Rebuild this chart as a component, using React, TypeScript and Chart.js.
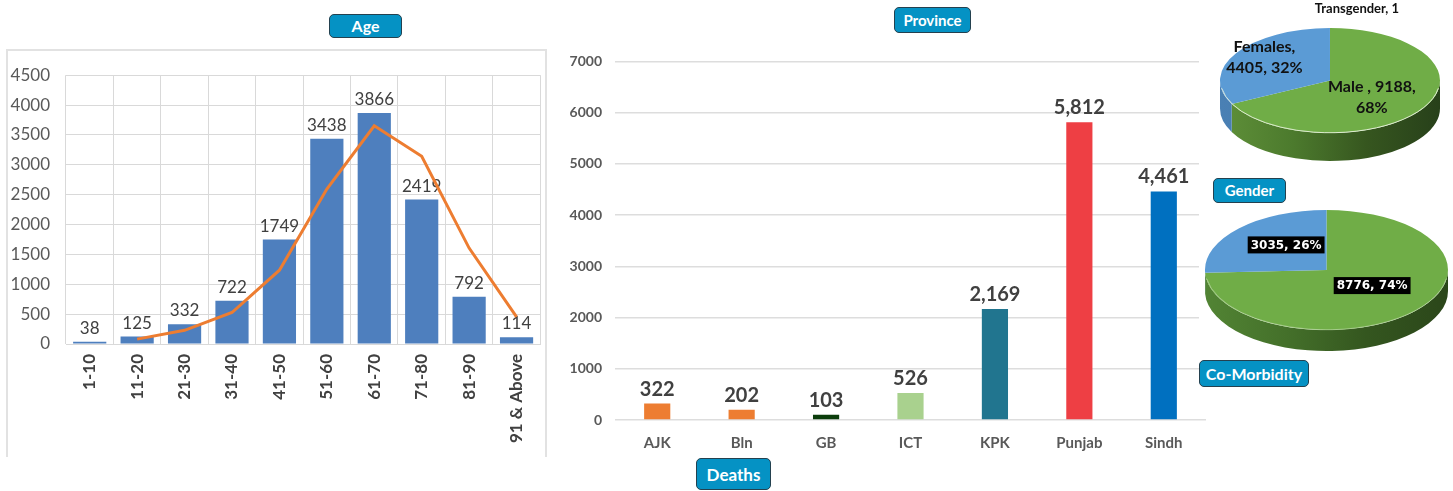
import React, { useEffect, useRef } from "react";
import { Chart, registerables } from "chart.js";

Chart.register(...registerables);

// ---------- data ----------
const ageCategories = ["1-10", "11-20", "21-30", "31-40", "41-50", "51-60", "61-70", "71-80", "81-90", "91 & Above"];
const ageDeaths = [38, 125, 332, 722, 1749, 3438, 3866, 2419, 792, 114];
// orange trend line
const ageTrend = [null, 82, 229, 527, 1236, 2594, 3652, 3143, 1606, 453];
const ageAxisMax = 4500;
const ageAxisStep = 500;

const provinceCategories = ["AJK", "Bln", "GB", "ICT", "KPK", "Punjab", "Sindh"];
const provinceDeaths = [322, 202, 103, 526, 2169, 5812, 4461];
const provinceAxisMax = 7000;
const provinceAxisStep = 1000;

const genderCategories = ["Male ", "Females", "Transgender"];
const genderValues = [9188, 4405, 1];

const comorbCategories = ["With Co-Morbidity", "Without Co-Morbidity"];
const comorbValues = [8776, 3035];

// ---------- styles ----------
const FONT = "Lato, 'Open Sans', sans-serif";
const provinceColors = ["#ED7D31", "#ED7D31", "#0B3D0B", "#A9D18E", "#21758F", "#EE3F44", "#0070C0"];

const barLabelPlugin = {
  id: "barLabels",
  afterDatasetDraw(chart: any, args: any, opts: any) {
    if (!opts || args.index !== opts.datasetIndex) return;
    const ctx = chart.ctx;
    const ds = chart.data.datasets[args.index];
    ctx.save();
    ctx.font = opts.font;
    ctx.fillStyle = opts.color;
    ctx.textAlign = "center";
    ctx.textBaseline = "alphabetic";
    args.meta.data.forEach((el: any, i: number) => {
      const v = ds.data[i];
      ctx.fillText(opts.format(v), el.x, el.y - opts.gap);
    });
    ctx.restore();
  },
};

function frontIntervals(s: number, e: number) {
  const out: number[][] = [];
  for (const off of [-2 * Math.PI, 0, 2 * Math.PI]) {
    const a = Math.max(s, off);
    const b = Math.min(e, off + Math.PI);
    if (b > a) out.push([a, b]);
  }
  return out;
}

const pie3dPlugin = {
  id: "pie3d",
  beforeDatasetsDraw(chart: any, _args: any, opts: any) {
    const meta = chart.getDatasetMeta(0);
    const arcs = meta.data;
    const ctx = chart.ctx;
    if (!arcs.length) return;
    const cx = arcs[0].x;
    const cy = arcs[0].y;
    const r = arcs[0].outerRadius;
    const { k, depth, centerY, sideColors } = opts;
    arcs.forEach((arc: any, i: number) => {
      const ivs = frontIntervals(arc.startAngle, arc.endAngle);
      ivs.forEach(([a, b]) => {
        const g = ctx.createLinearGradient(cx - r, 0, cx + r, 0);
        const stops = sideColors[i];
        stops.forEach((c: string, j: number) => g.addColorStop(j / (stops.length - 1), c));
        ctx.beginPath();
        ctx.ellipse(cx, centerY, r, r * k, 0, a, b, false);
        ctx.lineTo(cx + r * Math.cos(b), centerY + depth + r * k * Math.sin(b));
        ctx.ellipse(cx, centerY + depth, r, r * k, 0, b, a, true);
        ctx.closePath();
        ctx.fillStyle = g;
        ctx.fill();
      });
    });
    ctx.save();
    ctx.translate(0, centerY);
    ctx.scale(1, k);
    ctx.translate(0, -cy);
  },
  afterDatasetsDraw(chart: any, _args: any, opts: any) {
    const ctx = chart.ctx;
    ctx.restore();
    const arcs = chart.getDatasetMeta(0).data;
    if (!arcs.length) return;
    const cx = arcs[0].x;
    const r = arcs[0].outerRadius;
    if (opts.highlight) {
      ctx.save();
      ctx.beginPath();
      ctx.ellipse(cx, opts.centerY, r - 0.5, (r - 0.5) * opts.k, 0, 0.15, Math.PI - 0.15);
      ctx.strokeStyle = opts.highlight;
      ctx.lineWidth = 1;
      ctx.stroke();
      ctx.restore();
    }
  },
  afterDraw(chart: any, _args: any, opts: any) {
    const ctx = chart.ctx;
    const arcs = chart.getDatasetMeta(0).data;
    if (!arcs.length) return;
    const cx = arcs[0].x;
    const r = arcs[0].outerRadius;
    const { k, centerY, labels } = opts;
    ctx.save();
    arcs.forEach((arc: any, i: number) => {
      const spec = labels[i];
      if (!spec) return;
      const mid = (arc.startAngle + arc.endAngle) / 2;
      const px = cx + spec.frac * r * Math.cos(mid) + (spec.dx || 0);
      const py = centerY + spec.frac * r * k * Math.sin(mid) + (spec.dy || 0);
      ctx.font = spec.font;
      ctx.textAlign = "center";
      ctx.textBaseline = "middle";
      const lh = spec.lineHeight;
      const n = spec.lines.length;
      spec.lines.forEach((line: string, j: number) => {
        const y = py + (j - (n - 1) / 2) * lh;
        if (spec.bg) {
          const w = ctx.measureText(line).width + spec.padX * 2;
          ctx.fillStyle = spec.bg;
          ctx.fillRect(px - w / 2, y - spec.boxH / 2, w, spec.boxH);
        }
        ctx.fillStyle = spec.color;
        ctx.fillText(line, px, y + 0.5);
      });
    });
    ctx.restore();
  },
};

const plainTick = (v: any) => String(v);

function AgeChart() {
  const ref = useRef<HTMLCanvasElement>(null);
  useEffect(() => {
    const chart = new Chart(ref.current as HTMLCanvasElement, {
      type: "bar",
      data: {
        labels: ageCategories,
        datasets: [
          {
            type: "line",
            data: ageTrend as any,
            borderColor: "#ED7D31",
            borderWidth: 3,
            pointRadius: 0,
            tension: 0,
            order: 0,
          } as any,
          {
            type: "bar",
            data: ageDeaths,
            backgroundColor: "#4E7FBE",
            barPercentage: 0.7,
            categoryPercentage: 1,
            order: 1,
          } as any,
        ],
      },
      options: {
        animation: false,
        responsive: false,
        maintainAspectRatio: false,
        layout: { padding: { top: 17, right: 1, left: 0, bottom: 0 } },
        plugins: {
          legend: { display: false },
          tooltip: { enabled: false },
          barLabels: {
            datasetIndex: 1,
            font: `17px ${FONT}`,
            color: "#404040",
            gap: 8,
            format: (v: number) => String(v),
          },
        } as any,
        scales: {
          x: {
            grid: { color: "#D9D9D9", drawTicks: false, offset: true },
            border: { color: "#D9D9D9" },
            ticks: {
              autoSkip: false,
              maxRotation: 90,
              minRotation: 90,
              padding: 10,
              color: "#404040",
              font: { family: FONT, size: 17, weight: "bold" },
            },
            afterFit: (s: any) => {
              s.height = 113;
            },
          },
          y: {
            min: 0,
            max: ageAxisMax,
            ticks: {
              stepSize: ageAxisStep,
              padding: 16,
              color: "#595959",
              font: { family: FONT, size: 17 },
              callback: plainTick,
            },
            grid: { color: "#D9D9D9", drawTicks: false },
            border: { display: false },
            afterFit: (s: any) => {
              s.width = 60;
            },
          },
        },
      },
      plugins: [barLabelPlugin],
    });
    return () => chart.destroy();
  }, []);
  return (
    <canvas
      ref={ref}
      width={541}
      height={408}
      style={{ position: "absolute", left: 6, top: 49, width: 541, height: 408 }}
    />
  );
}

function ProvinceChart() {
  const ref = useRef<HTMLCanvasElement>(null);
  useEffect(() => {
    const chart = new Chart(ref.current as HTMLCanvasElement, {
      type: "bar",
      data: {
        labels: provinceCategories,
        datasets: [
          {
            data: provinceDeaths,
            backgroundColor: provinceColors,
            barPercentage: 0.31,
            categoryPercentage: 1,
          },
        ],
      },
      options: {
        animation: false,
        responsive: false,
        maintainAspectRatio: false,
        layout: { padding: { top: 17, right: 0, left: 0, bottom: 0 } },
        plugins: {
          legend: { display: false },
          tooltip: { enabled: false },
          barLabels: {
            datasetIndex: 0,
            font: `bold 20px ${FONT}`,
            color: "#404040",
            gap: 8,
            format: (v: number) => v.toLocaleString("en-US"),
          },
        } as any,
        scales: {
          x: {
            grid: { display: false },
            border: { display: false },
            ticks: {
              padding: 6,
              color: "#595959",
              font: { family: FONT, size: 15, weight: "bold" },
            },
            afterFit: (s: any) => {
              s.height = 40;
            },
          },
          y: {
            min: 0,
            max: provinceAxisMax,
            ticks: {
              stepSize: provinceAxisStep,
              padding: 13,
              color: "#595959",
              font: { family: FONT, size: 14, weight: "bold" },
              callback: plainTick,
            },
            grid: { color: "#DDDDDD", lineWidth: 1.5, drawTicks: false },
            border: { display: false },
            afterFit: (s: any) => {
              s.width = 55;
            },
          },
        },
      },
      plugins: [barLabelPlugin],
    });
    return () => chart.destroy();
  }, []);
  return (
    <canvas
      ref={ref}
      width={646}
      height={420}
      style={{ position: "absolute", left: 560, top: 40, width: 646, height: 420 }}
    />
  );
}

function Pie3D(props: {
  left: number;
  top: number;
  size: number;
  centerY: number;
  k: number;
  depth: number;
  categories: string[];
  values: number[];
  colors: string[];
  sideColors: string[][];
  labels: any[];
  highlight?: string;
}) {
  const ref = useRef<HTMLCanvasElement>(null);
  useEffect(() => {
    const chart = new Chart(ref.current as HTMLCanvasElement, {
      type: "pie",
      data: {
        labels: props.categories,
        datasets: [
          {
            data: props.values,
            backgroundColor: props.colors,
            borderWidth: 0,
            clip: false,
          } as any,
        ],
      },
      options: {
        animation: false,
        responsive: false,
        maintainAspectRatio: false,
        layout: { padding: 0 },
        plugins: {
          legend: { display: false },
          tooltip: { enabled: false },
          pie3d: {
            k: props.k,
            depth: props.depth,
            centerY: props.centerY,
            sideColors: props.sideColors,
            labels: props.labels,
            highlight: props.highlight,
          },
        } as any,
      },
      plugins: [pie3dPlugin],
    });
    return () => chart.destroy();
  }, []);
  return (
    <canvas
      ref={ref}
      width={props.size}
      height={props.size}
      style={{ position: "absolute", left: props.left, top: props.top, width: props.size, height: props.size }}
    />
  );
}

function Badge(p: { text: string; left: number; top: number; width: number; height: number; fontSize: number }) {
  return (
    <div
      style={{
        position: "absolute",
        left: p.left,
        top: p.top,
        width: p.width,
        height: p.height,
        boxSizing: "border-box",
        background: "#0592C4",
        border: "1.5px solid #24414F",
        borderRadius: 5,
        color: "#ffffff",
        fontFamily: FONT,
        fontWeight: 700,
        fontSize: p.fontSize,
        display: "flex",
        alignItems: "center",
        justifyContent: "center",
        lineHeight: 1,
      }}
    >
      {p.text}
    </div>
  );
}

const pct = (v: number, arr: number[]) => Math.round((v / arr.reduce((a, b) => a + b, 0)) * 100);

export default function App() {
  const gPct = genderValues.map((v) => pct(v, genderValues));
  const cPct = comorbValues.map((v) => pct(v, comorbValues));

  const genderLabels = [
    {
      lines: [`${genderCategories[0]}, ${genderValues[0]},`, `${gPct[0]}%`],
      frac: 0.49, dx: -4, dy: 3,
      font: `bold 16px ${FONT}`, color: "#111111", lineHeight: 21,
    },
    {
      lines: [`${genderCategories[1]},`, `${genderValues[1]}, ${gPct[1]}%`],
      frac: 0.7, dx: 0, dy: -4,
      font: `bold 16px ${FONT}`, color: "#111111", lineHeight: 21,
    },
    {
      lines: [`${genderCategories[2]}, ${genderValues[2]}`],
      frac: 1, dx: 27, dy: -20,
      font: `bold 13px ${FONT}`, color: "#111111", lineHeight: 16,
    },
  ];

  const comorbLabels = comorbValues.map((v, i) => ({
    lines: [`${v}, ${cPct[i]}%`],
    frac: i === 0 ? 0.52 : 0.46,
    dx: 0,
    dy: -6,
    font: `bold 12px 'DejaVu Sans', sans-serif`,
    color: "#ffffff",
    bg: "#000000",
    padX: 3,
    boxH: 17,
    lineHeight: 17,
  }));

  return (
    <div style={{ position: "absolute", left: 0, top: 0, width: 1453, height: 491, background: "#ffffff", overflow: "hidden" }}>
      <AgeChart />
      <div
        style={{
          position: "absolute",
          left: 6,
          top: 49,
          width: 541,
          height: 408,
          boxSizing: "border-box",
          borderLeft: "2px solid #E2E2E2",
          borderTop: "2px solid #E2E2E2",
          borderRight: "2px solid #E2E2E2",
          pointerEvents: "none",
        }}
      />
      <ProvinceChart />
      <div style={{ position: "absolute", left: 1199, top: 0, width: 254, height: 360, background: "#ffffff" }} />
      <Pie3D
        left={1220}
        top={0}
        size={220}
        centerY={80.5}
        k={0.477}
        depth={28}
        categories={genderCategories}
        values={genderValues}
        colors={["#70AD47", "#5B9BD5", "#5B9BD5"]}
        sideColors={[
          ["#5F9039", "#4C7A2D", "#36561F", "#27401A"],
          ["#4A80B4", "#3F6E9C"],
          ["#4A80B4", "#3F6E9C"],
        ]}
        labels={genderLabels}
        highlight="rgba(235,245,225,0.85)"
      />
      <Pie3D
        left={1205}
        top={200}
        size={243}
        centerY={70}
        k={0.494}
        depth={21}
        categories={comorbCategories}
        values={comorbValues}
        colors={["#70AD47", "#5B9BD5"]}
        sideColors={[
          ["#528434", "#44702A", "#34561F", "#2B461A"],
          ["#4A80B4", "#3F6E9C"],
        ]}
        labels={comorbLabels}
        highlight="rgba(235,245,225,0.4)"
      />
      <Badge text="Age" left={329} top={14} width={73} height={24} fontSize={16} />
      <Badge text="Province" left={894} top={7} width={77} height={26} fontSize={15} />
      <Badge text="Deaths" left={696} top={458} width={75} height={32} fontSize={17} />
      <Badge text="Gender" left={1213} top={178} width={73} height={25} fontSize={15} />
      <Badge text="Co-Morbidity" left={1199} top={360} width={110} height={27} fontSize={16} />
    </div>
  );
}
